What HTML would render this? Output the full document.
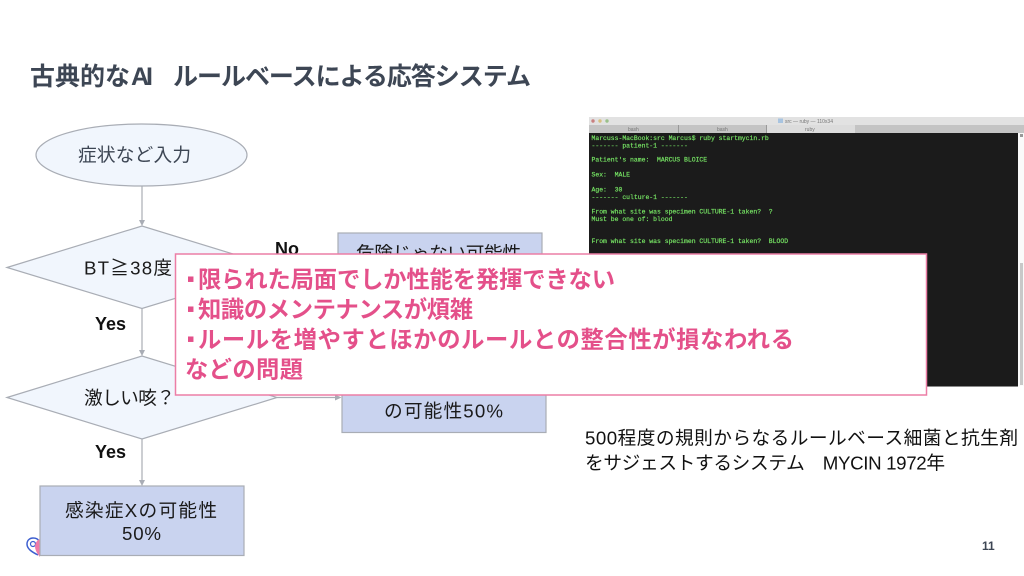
<!DOCTYPE html>
<html lang="ja">
<head>
<meta charset="utf-8">
<style>
html,body{margin:0;padding:0;background:#fff;width:1024px;height:576px;overflow:hidden}
svg{display:block}
text{font-family:"Liberation Sans","Noto Sans CJK JP",sans-serif}
.mono{font-family:"Liberation Mono",monospace;font-size:6.43px;fill:#74e062;white-space:pre;stroke:#74e062;stroke-width:0.2}
.tb{font-size:5px;fill:#777}
.b{font-weight:bold}
.ttl{font-size:25px;font-weight:bold;fill:#3d4654}
.pink{font-size:23.300px;font-weight:bold;fill:#e4508a}
.dot{font-family:"DejaVu Sans",sans-serif;font-size:11px;fill:#e4508a}
.blk{font-size:18.700px;fill:#1a1a1a}
</style>
</head>
<body>
<svg width="1024" height="576" viewBox="0 0 1024 576" xmlns="http://www.w3.org/2000/svg">
<defs>
<filter id="bl" x="-5%" y="-5%" width="110%" height="110%"><feGaussianBlur stdDeviation="0.3"/></filter>
</defs>
<rect width="1024" height="576" fill="#fff"/>

<text x="30" y="85" class="ttl" textLength="100" lengthAdjust="spacing">古典的な</text>
<text x="131" y="85" class="ttl" textLength="22" lengthAdjust="spacing">AI</text>
<text x="173" y="85" class="ttl" textLength="358" lengthAdjust="spacing">ルールベースによる応答システム</text>

<!-- terminal -->
<g>
<rect x="589" y="117" width="435" height="9" fill="#e2e2e2"/>
<rect x="589" y="125" width="435" height="8" fill="#c4c4c4"/>
<rect x="678" y="125" width="1" height="8" fill="#999"/>
<rect x="766" y="125" width="1" height="8" fill="#999"/>
<rect x="767" y="125" width="88" height="8" fill="#dcdcdc"/>
<circle cx="593" cy="121" r="1.700" fill="#c98080"/>
<circle cx="600" cy="121" r="1.700" fill="#d8c080"/>
<circle cx="607" cy="121" r="1.700" fill="#9ac08a"/>
<rect x="778" y="118.500" width="5" height="4.500" fill="#a8c4e0"/>
<text x="785" y="123" class="tb">src — ruby — 110x34</text>
<text x="628" y="131" class="tb">bash</text>
<text x="717" y="131" class="tb">bash</text>
<text x="805" y="131" class="tb">ruby</text>
<rect x="589" y="133" width="429" height="253" fill="#1b1b1b"/>
<rect x="589" y="386" width="429" height="1" fill="#8a8a8a"/>
<rect x="1018" y="133" width="6" height="253" fill="#fafafa"/>
<rect x="1020" y="263" width="3" height="122" fill="#c8c8c8"/>
<rect x="1020" y="134" width="3" height="3" fill="#999"/>
<g filter="url(#bl)">
<text class="mono" x="591.500" y="140">Marcuss-MacBook:src Marcus$ ruby startmycin.rb</text>
<text class="mono" x="591.500" y="147.300">------- patient-1 -------</text>
<text class="mono" x="591.500" y="161.700">Patient's name:  MARCUS BLOICE</text>
<text class="mono" x="591.500" y="176.400">Sex:  MALE</text>
<text class="mono" x="591.500" y="191.300">Age:  30</text>
<text class="mono" x="591.500" y="199">------- culture-1 -------</text>
<text class="mono" x="591.500" y="213.700">From what site was specimen CULTURE-1 taken?  ?</text>
<text class="mono" x="591.500" y="221">Must be one of: blood</text>
<text class="mono" x="591.500" y="243">From what site was specimen CULTURE-1 taken?  BLOOD</text>
</g>
</g>

<!-- connectors -->
<g stroke="#a9adb5" stroke-width="1.200" fill="none">
<line x1="142" y1="186" x2="142" y2="222"/>
<line x1="142" y1="308" x2="142" y2="352"/>
<line x1="142" y1="439" x2="142" y2="482"/>
<line x1="277" y1="397.500" x2="337" y2="397.500"/>
</g>
<g fill="#a9adb5">
<polygon points="139,220 145,220 142,226"/>
<polygon points="139,350 145,350 142,356"/>
<polygon points="139,480 145,480 142,486"/>
<polygon points="335,394.500 335,400.500 341.500,397.500"/>
</g>

<!-- nodes -->
<ellipse cx="141.500" cy="155" rx="105.500" ry="31" fill="#f1f6fd" stroke="#a9adb5" stroke-width="1.200"/>
<text x="78" y="161.500" font-size="18.700" fill="#3d4654" textLength="113" lengthAdjust="spacing">症状など入力</text>

<polygon points="7,267.500 142,226 277,267.500 142,308.500" fill="#f1f6fd" stroke="#a9adb5" stroke-width="1.200"/>
<text x="84" y="274.500" class="blk" textLength="88" lengthAdjust="spacing">BT≧38度</text>

<polygon points="7,397.500 142,356 277,397.500 142,439" fill="#f1f6fd" stroke="#a9adb5" stroke-width="1.200"/>
<text x="84" y="404.500" class="blk" textLength="91" lengthAdjust="spacing">激しい咳？</text>

<rect x="338" y="233" width="204" height="80" fill="#c9d3ef" stroke="#a9adb5" stroke-width="1.200"/>
<text x="356" y="260" class="blk" textLength="165" lengthAdjust="spacing">危険じゃない可能性</text>

<rect x="342" y="360" width="204" height="72.500" fill="#c9d3ef" stroke="#a9adb5" stroke-width="1.200"/>
<text x="384" y="417.500" class="blk" textLength="119" lengthAdjust="spacing">の可能性50%</text>

<path d="M38,555 C32,552 27,549 27,544 C27,540 30,538 33,538 C36,538 38,539 39,541" fill="none" stroke="#3d5fd0" stroke-width="1.500"/>
<circle cx="33" cy="544" r="2.500" fill="none" stroke="#3d5fd0" stroke-width="1.200"/>
<path d="M40,539 C35,541 32,548 40,557 Z" fill="#f07aa8"/>

<rect x="40" y="486" width="204" height="69.500" fill="#c9d3ef" stroke="#a9adb5" stroke-width="1.200"/>
<text x="65" y="517" class="blk" textLength="152" lengthAdjust="spacing">感染症Xの可能性</text>
<text x="122" y="540" class="blk" textLength="39" lengthAdjust="spacing">50%</text>

<text x="275" y="255" font-size="18" class="b" fill="#111">No</text>
<text x="95" y="330" font-size="18" class="b" fill="#111">Yes</text>
<text x="95" y="458" font-size="18" class="b" fill="#111">Yes</text>

<!-- overlay -->
<rect x="175.500" y="254" width="751" height="141" fill="#fff" stroke="#ec7ea6" stroke-width="1.500"/>
<text class="dot" x="187" y="282">▪</text>
<text class="dot" x="187" y="312">▪</text>
<text class="dot" x="187" y="342">▪</text>
<text class="pink" x="198" y="287.500" textLength="417" lengthAdjust="spacing">限られた局面でしか性能を発揮できない</text>
<text class="pink" x="198" y="317.500" textLength="275" lengthAdjust="spacing">知識のメンテナンスが煩雑</text>
<text class="pink" x="198" y="347.500" textLength="596" lengthAdjust="spacing">ルールを増やすとほかのルールとの整合性が損なわれる</text>
<text class="pink" x="185" y="377.500" textLength="118" lengthAdjust="spacing">などの問題</text>

<text x="585" y="444.500" font-size="18.700" fill="#111" textLength="433" lengthAdjust="spacing">500程度の規則からなるルールベース細菌と抗生剤</text>
<text x="585" y="469.500" font-size="18.700" fill="#111" textLength="360" lengthAdjust="spacing">をサジェストするシステム　MYCIN 1972年</text>

<text x="982" y="550" font-size="12" class="b" fill="#3d4654">11</text>
</svg>
</body>
</html>
